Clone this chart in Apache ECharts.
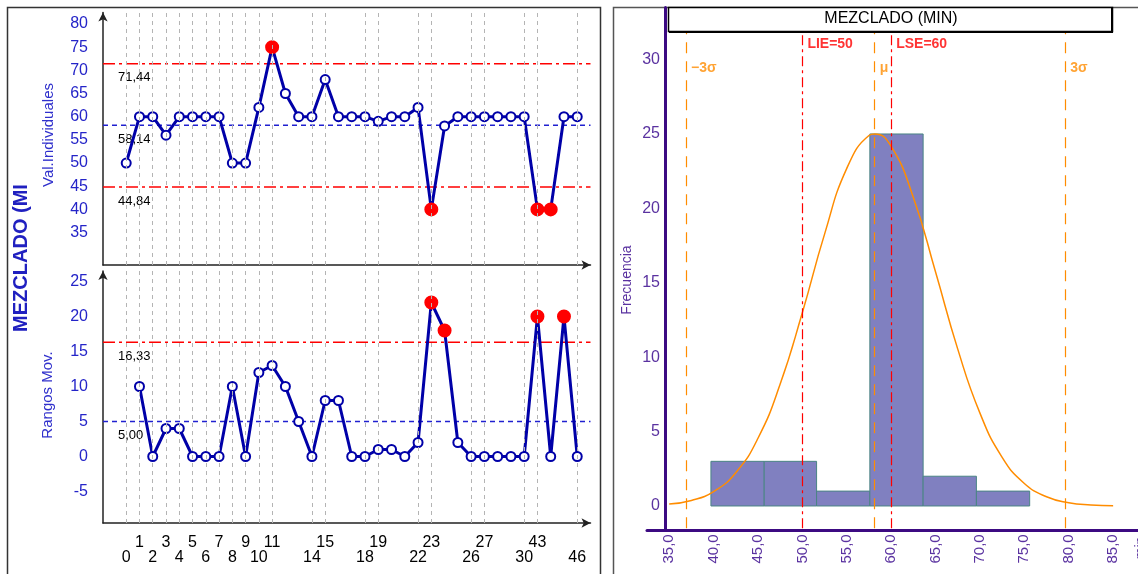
<!DOCTYPE html>
<html>
<head>
<meta charset="utf-8">
<script src="https://cdn.jsdelivr.net/npm/echarts@6/dist/echarts.min.js"></script>
<style>
html, body { margin: 0; background: #fff; }
#chart { width: 1138px; height: 574px; }
</style>
</head>
<body>
<div id="chart"></div>
<script>
// sample ids on the x axis of the control charts
var samples = ['0','1','2','3','4','5','6','7','8','9','10','11','12','13','14','15','16','17','18','19',
  '20','21','22','23','24','25','26','27','28','29','30','43','44','45','46'];
// which sample positions get a label / gridline
var shownIdx = [0,1,2,3,4,5,6,7,8,9,10,11,14,15,18,19,22,23,26,27,30,31,34];

// individual values (top chart)
var indiv = [50,60,60,56,60,60,60,60,50,50,62,75,65,60,60,68,60,60,60,59,
  60,60,62,40,58,60,60,60,60,60,60,40,40,60,60];
// moving ranges, starting at sample 1
var movRange = [10,0,4,4,0,0,0,10,0,12,13,10,5,0,8,8,0,0,1,1,0,2,22,18,2,0,0,0,0,0,20,0,20,0];

var uclX = 71.44, clX = 58.14, lclX = 44.84;
var uclR = 16.33, clR = 5.00;

// histogram
var binEdges = [39.7, 45.7, 51.6, 57.6, 63.6, 69.6, 75.6];
var binCounts = [3, 3, 1, 25, 2, 1];
// fitted normal curve
var curvePts = [[35,0.13],[37.5,0.37],[40,0.97],[42.5,2.24],[45,4.55],[47.5,8.19],[50,13.0],
  [52.5,18.27],[55,22.69],[57.5,24.9],[58.14,25],[60,24.16],[62.5,20.73],[65,15.72],
  [67.5,10.54],[70,6.24],[72.5,3.27],[75,1.51],[77.5,0.62],[80,0.22],[82.5,0.07],[85,0.02]];
var refNames = ['\u22123\u03c3', 'LIE=50', '\u03bc', 'LSE=60', '3\u03c3'];
var refValues = [36.9, 50, 58.14, 60, 79.6];

var FONT = 'Liberation Sans, Arial, sans-serif';
var BLUE = '#0000a8';
var PURPLE = '#3c0a82';
var PURPLE_TXT = '#5a32a0';
var ORANGE = '#ff8c00';
var RED = '#ff0000';
var X_MIN = -1.75, X_MAX = 35;

function comma(v) { return v.toFixed(2).replace('.', ','); }

function markPts(vals, start, hi, lo) {
  return vals.map(function (v, k) {
    var i = k + start;
    if (v > hi || v < lo) {
      return { value: [i, v], symbol: 'circle', symbolSize: 12,
        itemStyle: { color: '#ff0000', borderColor: '#ff0000' } };
    }
    return [i, v];
  });
}

function leftX(grid, withLabels) {
  return {
    type: 'value', gridIndex: grid, min: X_MIN, max: X_MAX, interval: 0.25,
    axisLine: { show: true, onZero: false, lineStyle: { color: '#222', width: 1.5 },
      symbol: ['none', 'arrow'], symbolSize: [7, 9] },
    axisTick: { show: false },
    splitLine: { show: false },
    axisLabel: withLabels ? {
      margin: 12, color: '#000', fontSize: 16, fontFamily: FONT, lineHeight: 15,
      formatter: function (v) {
        if (Math.abs(v - Math.round(v)) > 1e-6) return '';
        var k = shownIdx.indexOf(Math.round(v));
        if (k < 0) return '';
        var s = samples[Math.round(v)];
        return k % 2 ? s + '\n ' : ' \n' + s;
      }
    } : { show: false }
  };
}

function leftY(grid, mn, mx, lo, hi) {
  return {
    type: 'value', gridIndex: grid, min: mn, max: mx, interval: 0.5,
    axisLine: { show: true, onZero: false, lineStyle: { color: '#222', width: 1.5 },
      symbol: ['none', 'arrow'], symbolSize: [7, 9] },
    axisTick: { show: false },
    splitLine: { show: false },
    axisLabel: {
      margin: 15, color: '#2424c8', fontSize: 16, fontFamily: FONT,
      formatter: function (v) {
        return (Math.abs(v % 5) < 1e-6 && v >= lo && v <= hi) ? String(v) : '';
      }
    }
  };
}

function gridSeries(ax) {
  return {
    type: 'line', xAxisIndex: ax, yAxisIndex: ax, z: 1, silent: true,
    data: [], symbol: 'none',
    markLine: {
      silent: true, symbol: 'none', label: { show: false },
      lineStyle: { color: '#b4b4b4', type: [4, 4], width: 1 },
      data: shownIdx.map(function (i) { return { xAxis: i }; })
    }
  };
}

// a control line as a plain two-point line series, label on its first point
function ctlSeries(ax, val, isRed) {
  var col = isRed ? RED : '#2020d0';
  return {
    type: 'line', xAxisIndex: ax, yAxisIndex: ax, z: 2, silent: true,
    symbol: 'circle', symbolSize: 0, showAllSymbol: true, color: col,
    lineStyle: { color: col, type: isRed ? [12, 4, 3, 4] : [5, 4], width: 1.5 },
    data: [
      { value: [X_MIN, val], label: { show: true, position: 'right', offset: [10, 14],
        color: '#000', fontSize: 13, fontFamily: FONT, formatter: comma(val) } },
      [X_MAX, val]
    ]
  };
}

function refSeries(i) {
  var isSpec = refNames[i].indexOf('=') >= 0;
  var col = isSpec ? RED : ORANGE;
  return {
    type: 'scatter', xAxisIndex: 2, yAxisIndex: 2, z: 5, silent: true,
    symbolSize: 0, color: col,
    data: [{ value: [refValues[i], isSpec ? 31.05 : 29.4] }],
    label: {
      show: true, position: 'right', distance: 5, formatter: refNames[i],
      color: col, fontWeight: 'bold', fontSize: 14, fontFamily: FONT
    },
    markLine: {
      silent: true, symbol: 'none', label: { show: false },
      lineStyle: { color: col, type: isSpec ? [10, 4, 3, 4] : [11, 8], width: 1.2 },
      data: [{ xAxis: refValues[i] }]
    }
  };
}

var series = [
  gridSeries(0),
  ctlSeries(0, uclX, true),
  ctlSeries(0, clX, false),
  ctlSeries(0, lclX, true),
  {
    type: 'line', xAxisIndex: 0, yAxisIndex: 0, z: 3,
    data: markPts(indiv, 0, uclX, lclX),
    symbol: 'emptyCircle', symbolSize: 9, showAllSymbol: true,
    lineStyle: { color: BLUE, width: 3 },
    itemStyle: { color: BLUE, borderColor: BLUE, borderWidth: 2 }
  },
  gridSeries(1),
  ctlSeries(1, uclR, true),
  ctlSeries(1, clR, false),
  {
    type: 'line', xAxisIndex: 1, yAxisIndex: 1, z: 3,
    data: markPts(movRange, 1, uclR, -Infinity),
    symbol: 'emptyCircle', symbolSize: 9, showAllSymbol: true,
    lineStyle: { color: BLUE, width: 3 },
    itemStyle: { color: BLUE, borderColor: BLUE, borderWidth: 2 }
  },
  // histogram bars
  {
    type: 'custom', xAxisIndex: 2, yAxisIndex: 2, z: 2,
    data: binCounts.map(function (c, i) { return [binEdges[i], binEdges[i + 1], c]; }),
    renderItem: function (params, api) {
      var p0 = api.coord([api.value(0), api.value(2)]);
      var p1 = api.coord([api.value(1), 0]);
      return {
        type: 'rect',
        shape: { x: p0[0], y: p0[1], width: p1[0] - p0[0], height: p1[1] - p0[1] },
        style: { fill: '#8080c0', stroke: '#4a8484', lineWidth: 1 }
      };
    }
  },
  // normal curve
  {
    type: 'line', xAxisIndex: 2, yAxisIndex: 2, z: 4,
    data: curvePts, smooth: true, showSymbol: false, symbol: 'none',
    lineStyle: { color: ORANGE, width: 1.5 }
  }
];
refValues.forEach(function (v, i) { series.push(refSeries(i)); });

var option = {
  animation: false,
  backgroundColor: '#fff',
  grid: [
    { left: 103, top: 12.4, width: 487.5, height: 252.6 },
    { left: 103, top: 271, width: 487.5, height: 252 },
    { left: 647, top: 7.5, width: 491, height: 520.8 }
  ],
  xAxis: [
    leftX(0, false),
    leftX(1, true),
    {
      type: 'value', gridIndex: 2, min: 32.5, max: 87.8, interval: 2.5, offset: 2,
      axisLine: { show: true, onZero: false, lineStyle: { color: PURPLE, width: 3 } },
      axisTick: { show: false },
      splitLine: { show: false },
      axisLabel: {
        rotate: 90, margin: 4, color: PURPLE_TXT, fontSize: 15, fontFamily: FONT,
        formatter: function (v) {
          return Math.abs(v % 5) < 1e-6 ? v.toFixed(1).replace('.', ',') : '';
        }
      }
    }
  ],
  yAxis: [
    leftY(0, 28, 82.5, 35, 80),
    leftY(1, -9.5, 26.5, -5, 25),
    {
      type: 'value', gridIndex: 2, min: -1.5, max: 33.5, interval: 0.5, offset: -18,
      axisLine: { show: true, onZero: false, lineStyle: { color: PURPLE, width: 3 } },
      axisTick: { show: false },
      splitLine: { show: false },
      axisLabel: {
        margin: 5, color: PURPLE_TXT, fontSize: 16, fontFamily: FONT,
        formatter: function (v) {
          return (Math.abs(v % 5) < 1e-6 && v >= 0 && v <= 30) ? String(v) : '';
        }
      }
    }
  ],
  series: series,
  graphic: [
    { type: 'rect', shape: { x: 7.5, y: 7.5, width: 593, height: 580 },
      style: { fill: null, stroke: '#333', lineWidth: 1.5 }, silent: true },
    { type: 'rect', shape: { x: 613.5, y: 7.5, width: 540, height: 580 },
      style: { fill: null, stroke: '#555', lineWidth: 1.5 }, silent: true },
    { type: 'text', x: 21, y: 258, rotation: Math.PI / 2,
      style: { text: 'MEZCLADO (MI', font: 'bold 20px ' + FONT, fill: '#2020c0',
        align: 'center', verticalAlign: 'middle' } },
    { type: 'text', x: 49, y: 135, rotation: Math.PI / 2,
      style: { text: 'Val.Individuales', font: '15px ' + FONT, fill: '#3030cc',
        align: 'center', verticalAlign: 'middle' } },
    { type: 'text', x: 48, y: 395, rotation: Math.PI / 2,
      style: { text: 'Rangos Mov.', font: '15px ' + FONT, fill: '#3030cc',
        align: 'center', verticalAlign: 'middle' } },
    { type: 'text', x: 627, y: 280, rotation: Math.PI / 2,
      style: { text: 'Frecuencia', font: '14px ' + FONT, fill: PURPLE_TXT,
        align: 'center', verticalAlign: 'middle' } },
    { type: 'text', x: 1141, y: 548, rotation: Math.PI / 2,
      style: { text: 'min', font: '14px ' + FONT, fill: PURPLE_TXT,
        align: 'center', verticalAlign: 'middle' } },
    // title box
    { type: 'rect', shape: { x: 668.5, y: 7.5, width: 444, height: 24 },
      style: { fill: '#fff', stroke: '#000', lineWidth: 1.5 }, z: 100 },
    { type: 'polyline', shape: { points: [[1112, 8], [1112, 32], [669, 32]] },
      style: { fill: null, stroke: '#000', lineWidth: 2 }, z: 101 },
    { type: 'text', x: 891, y: 19, z: 102,
      style: { text: 'MEZCLADO (MIN)', font: '16px ' + FONT, fill: '#000',
        align: 'center', verticalAlign: 'middle' } }
  ]
};

var chart = echarts.init(document.getElementById('chart'));
chart.setOption(option);
</script>
</body>
</html>
